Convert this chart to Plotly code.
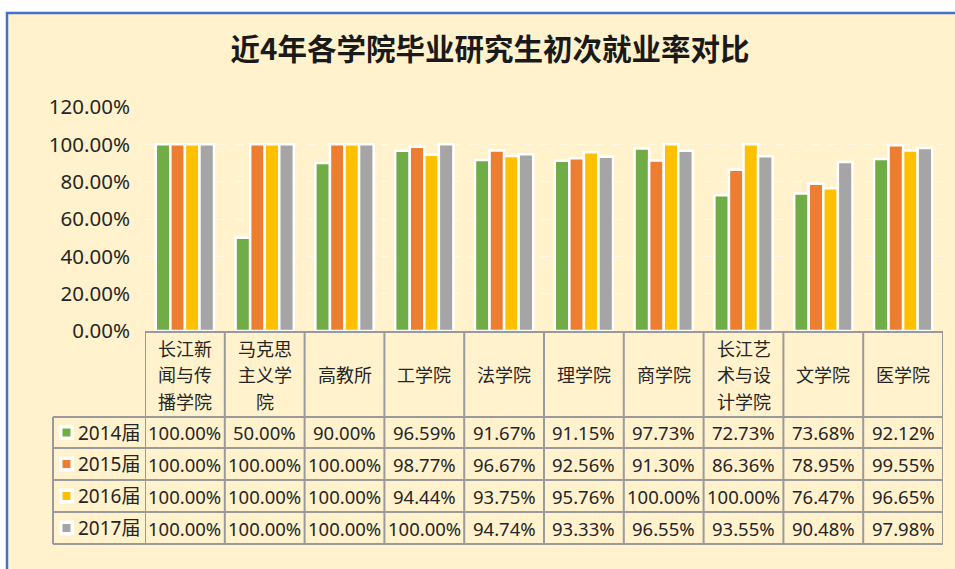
import plotly.graph_objects as go

# ---- data ----
categories = ["长江新闻与传播学院", "马克思主义学院", "高教所", "工学院", "法学院",
              "理学院", "商学院", "长江艺术与设计学院", "文学院", "医学院"]
header_lines = [["长江新", "闻与传", "播学院"], ["马克思", "主义学", "院"], ["高教所"], ["工学院"], ["法学院"],
                ["理学院"], ["商学院"], ["长江艺", "术与设", "计学院"], ["文学院"], ["医学院"]]
series_names = ["2014届", "2015届", "2016届", "2017届"]
v2014 = [100.00, 50.00, 90.00, 96.59, 91.67, 91.15, 97.73, 72.73, 73.68, 92.12]
v2015 = [100.00, 100.00, 100.00, 98.77, 96.67, 92.56, 91.30, 86.36, 78.95, 99.55]
v2016 = [100.00, 100.00, 100.00, 94.44, 93.75, 95.76, 100.00, 100.00, 76.47, 96.65]
v2017 = [100.00, 100.00, 100.00, 100.00, 94.74, 93.33, 96.55, 93.55, 90.48, 97.98]
series_values = [v2014, v2015, v2016, v2017]
colors = ["#70AD47", "#ED7D31", "#FFC000", "#A5A5A5"]
title_text = "近4年各学院毕业研究生初次就业率对比"

# ---- layout geometry (pixels) ----
W, H = 955, 569
L, R, T, B = 145, 943, 107, 331


def px2x(px):
    return (px - L) / (R - L)


def py2y(py):
    return (B - py) / (B - T)


FONT = "Noto Sans, Noto Sans CJK SC, sans-serif"
CJK = "Noto Sans CJK SC, sans-serif"
TXT = "#262626"
GRID = "#9A9A9A"

fig = go.Figure()
for name, vals, col in zip(series_names, series_values, colors):
    fig.add_trace(go.Bar(
        x=categories, y=[v / 100 for v in vals], name=name,
        marker=dict(color=col, line=dict(color="white", width=2.5)),
        hoverinfo="x+y+name",
    ))

shapes = []
annotations = []

# chart background with blue frame
shapes.append(dict(type="rect", xref="paper", yref="paper", layer="below",
                   x0=px2x(7), x1=px2x(1100), y0=py2y(700), y1=py2y(13),
                   fillcolor="#FFF2CC", line=dict(color="#4472C4", width=2.5)))

# table rows
header_top = 332
row_lines = [417, 448, 480, 512, 544]
row_centers = [432.5, 464, 496, 528]
legend_left = 53
n = len(categories)

shapes.append(dict(type="line", xref="x", yref="paper", x0=-0.5, x1=n - 0.5,
                   y0=py2y(header_top), y1=py2y(header_top), line=dict(color=GRID, width=2)))
for ry in row_lines:
    shapes.append(dict(type="line", xref="paper", yref="paper", x0=px2x(legend_left), x1=1,
                       y0=py2y(ry), y1=py2y(ry), line=dict(color=GRID, width=2)))
for i in range(n + 1):
    shapes.append(dict(type="line", xref="x", yref="paper", x0=i - 0.5, x1=i - 0.5,
                       y0=py2y(header_top), y1=py2y(row_lines[-1]), line=dict(color=GRID, width=2)))
shapes.append(dict(type="line", xref="paper", yref="paper", x0=px2x(legend_left), x1=px2x(legend_left),
                   y0=py2y(row_lines[0]), y1=py2y(row_lines[-1]), line=dict(color=GRID, width=2)))

# header labels (one annotation per line)
line_h = 26.5
for i, lines in enumerate(header_lines):
    k = len(lines)
    for j, t in enumerate(lines):
        cy = 374 + (j - (k - 1) / 2) * line_h
        annotations.append(dict(xref="x", yref="paper", x=i, y=py2y(cy), text=t,
                                showarrow=False, xanchor="center", yanchor="middle",
                                font=dict(family=CJK, size=18, color=TXT)))

# legend keys and values
for r, (name, vals, col) in enumerate(zip(series_names, series_values, colors)):
    cy = row_centers[r]
    shapes.append(dict(type="rect", xref="paper", yref="paper",
                       x0=px2x(59), x1=px2x(74), y0=py2y(cy + 7.5), y1=py2y(cy - 7.5),
                       fillcolor="white", line=dict(width=0)))
    shapes.append(dict(type="rect", xref="paper", yref="paper",
                       x0=px2x(62.5), x1=px2x(70.5), y0=py2y(cy + 4), y1=py2y(cy - 4),
                       fillcolor=col, line=dict(width=0)))
    annotations.append(dict(xref="paper", yref="paper", x=px2x(76), y=py2y(cy), text=name,
                            showarrow=False, xanchor="left", yanchor="middle",
                            font=dict(family=FONT, size=19, color=TXT)))
    for i, v in enumerate(vals):
        annotations.append(dict(xref="x", yref="paper", x=i, y=py2y(cy), text=f"{v:.2f}%",
                                showarrow=False, xanchor="center", yanchor="middle",
                                font=dict(family=FONT, size=18.5, color=TXT)))

fig.update_layout(
    width=W, height=H,
    margin=dict(l=L, r=W - R, t=T, b=H - B),
    paper_bgcolor="white", plot_bgcolor="rgba(0,0,0,0)",
    barmode="group", bargap=0.27, bargroupgap=0,
    showlegend=False,
    title=dict(text="<b>" + title_text + "</b>", x=490 / W, xanchor="center",
               y=1 - 50 / H, yanchor="middle", xref="container", yref="container",
               font=dict(family=CJK, size=29.5, color="#1a1a1a")),
    xaxis=dict(showticklabels=False, showgrid=False, zeroline=False, showline=False,
               range=[-0.5, n - 0.5]),
    yaxis=dict(range=[0, 1.2], dtick=0.2, tickformat=".2%", showgrid=True,
               gridcolor="rgba(255,255,255,0.45)", griddash="dash", gridwidth=1,
               zeroline=False, showline=False, ticks="", ticklabelstandoff=14,
               tickfont=dict(family=FONT, size=20.5, color=TXT)),
    shapes=shapes, annotations=annotations,
)

fig.write_html(
    "out.html",
    config={"displayModeBar": False},
    post_script="document.body.style.margin='0';document.body.style.padding='0';"
                "document.body.style.overflow='hidden';",
)
